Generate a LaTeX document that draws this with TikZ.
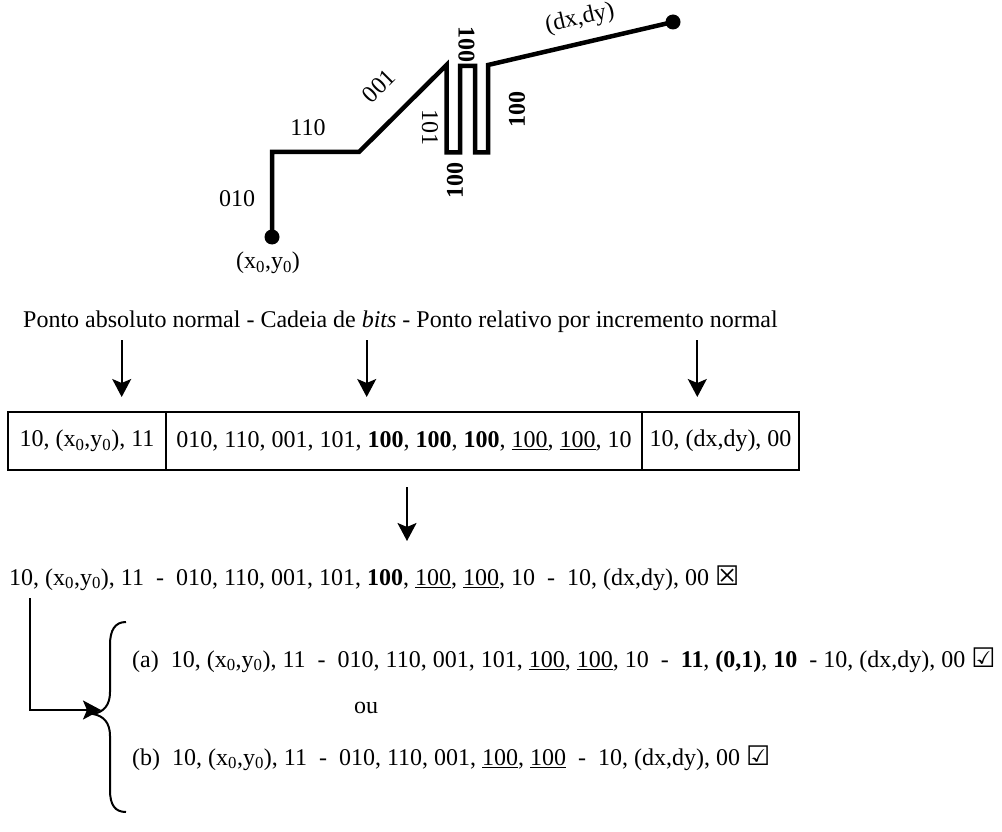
\documentclass[tikz,border=0pt]{standalone}
\usepackage{fontspec}
\setmainfont{Liberation Serif}
\newfontfamily\symfont{DejaVu Sans}
\usetikzlibrary{arrows.meta}
\tikzset{
  txt/.style={font=\fontsize{24}{28.8}\selectfont, inner sep=0pt},
  trace/.style={line width=4.5pt, line join=miter},
  dotmark/.style={circle, fill=black, inner sep=0pt, minimum size=15pt},
  cell/.style={draw, line width=2pt, minimum height=58pt, inner sep=0pt, font=\fontsize{24}{28.8}\selectfont},
  arr/.style={line width=2pt, -{Stealth[length=18pt,width=19pt,inset=4pt]}},
  bracel/.style={line width=2pt},
}
\newcommand{\xy}{(x\textsubscript{0},y\textsubscript{0})}
\newcommand{\nok}{{\symfont\fontsize{27}{27}\selectfont ☒}}
\newcommand{\yes}{{\symfont\fontsize{27}{27}\selectfont ☑}}
\begin{document}
\begin{tikzpicture}[x=1pt,y=-1pt]
\useasboundingbox (0,0) rectangle (1002,832);
% --- chain drawing ---
\node[dotmark] (p0) at (272,237) {};
\node[dotmark] (p1) at (673,22) {};
\draw[trace] (p0.center) -- (272,152) -- (359,152) -- (446.5,65) -- (446.5,152.5) -- (460,152.5) -- (460,66) -- (475,66) -- (475,152.5) -- (488,152.5) -- (488,65) -- (p1.center);
\node[txt] (l010) at (237,199) {010};
\node[txt] (l110) at (308,128) {110};
\node[txt, rotate=45] (l001) at (379,86) {001};
\node[txt, rotate=-90] (l101) at (430,128) {101};
\node[txt, rotate=90] (l100a) at (455,180) {\textbf{100}};
\node[txt, rotate=-90] (l100b) at (466.5,45) {\textbf{100}};
\node[txt, rotate=90] (l100c) at (517,110) {\textbf{100}};
\node[txt, rotate=13] (ldxdy) at (580,19) {(dx,dy)};
\node[txt] (lxy) at (268,263) {\xy};
% --- title ---
\node[txt, anchor=west] (title) at (23,322) {Ponto absoluto normal - Cadeia de \textit{bits} - Ponto relativo por incremento normal};
\coordinate (t1) at (121.7,340);
\coordinate (t2) at (366.7,340);
\coordinate (t3) at (697.3,340);
\coordinate (h1) at (121.7,397);
\coordinate (h2) at (366.7,397);
\coordinate (h3) at (697.3,397);
\draw[arr] (t1) -- (h1);
\draw[arr] (t2) -- (h2);
\draw[arr] (t3) -- (h3);
% --- box ---
\node[cell, minimum width=158pt] (b1) at (87,441) {10, \xy, 11};
\node[cell, minimum width=476pt] (b2) at (404,441) {010, 110, 001, 101, \textbf{100}, \textbf{100}, \textbf{100}, \underline{100}, \underline{100}, 10};
\node[cell, minimum width=157pt] (b3) at (720.5,441) {10, (dx,dy), 00};
\coordinate (d0) at (407,487);
\coordinate (d1) at (407,541);
\draw[arr] (d0) -- (d1);
% --- result line ---
\node[txt, anchor=west] (r0) at (9,578) {10, \xy, 11 \ - \ 010, 110, 001, 101, \textbf{100}, \underline{100}, \underline{100}, 10 \ - \ 10, (dx,dy), 00 \nok};
\coordinate (c0) at (30,598);
\coordinate (c1) at (101,710);
\draw[arr] (c0) |- (c1);
% --- brace ---
\draw[bracel] (126,622) .. controls (115,622) and (110,630) .. (110,645) -- (110,692) .. controls (110,705) and (104,712) .. (93,714) .. controls (104,716) and (110,723) .. (110,736) -- (110,790) .. controls (110,805) and (115,812) .. (126,812);
\node[txt, anchor=west] (ra) at (132,660) {(a)\ \ 10, \xy, 11 \ - \ 010, 110, 001, 101, \underline{100}, \underline{100}, 10 \ - \ \textbf{11}, \textbf{(0,1)}, \textbf{10} \ - 10, (dx,dy), 00 \yes};
\node[txt] (ou) at (366,708) {ou};
\node[txt, anchor=west] (rb) at (132,758) {(b)\ \ 10, \xy, 11 \ - \ 010, 110, 001, \underline{100}, \underline{100} \ - \ 10, (dx,dy), 00 \yes};
\end{tikzpicture}
\end{document}
